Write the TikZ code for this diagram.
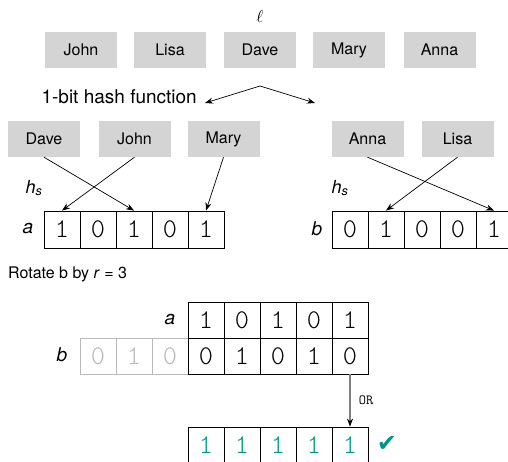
\documentclass[tikz,border=0pt]{standalone}
\usepackage{fontspec}
\setmainfont{TeX Gyre Heros}
\newfontfamily\digitfont{Latin Modern Mono Light}
\newfontfamily\symfont{DejaVu Sans}
\usetikzlibrary{arrows.meta}
\definecolor{boxgray}{RGB}{212,212,212}
\definecolor{teal}{RGB}{0,150,136}
\definecolor{ghost}{RGB}{185,185,185}
\tikzset{
  namebox/.style={fill=boxgray, minimum width=72pt, minimum height=36pt, inner sep=0pt, font=\fontsize{16}{19}\selectfont},
  cell/.style={draw, line width=0.8pt, minimum width=36pt, minimum height=37pt, inner sep=0pt, font=\digitfont\fontsize{27}{30}\selectfont},
  ghostcell/.style={cell, draw=ghost, text=ghost},
  okcell/.style={cell, text=teal},
  lbl/.style={inner sep=0pt, font=\fontsize{19}{22}\selectfont\itshape},
  txt/.style={inner sep=0pt, font=\fontsize{16}{19}\selectfont},
  arr/.style={-{Stealth[length=8pt,width=6pt]}, line width=0.7pt},
}
\begin{document}
\begin{tikzpicture}[x=1pt,y=-1pt]
\useasboundingbox (0,0) rectangle (508,462);
% top row
\node (ell) at (260,17) {\fontsize{16}{19}\selectfont$\ell$};
\node[namebox] (john) at (81,50) {John};
\node[namebox] (lisa) at (170,50) {Lisa};
\node[namebox] (dave) at (260,50) {Dave};
\node[namebox] (mary) at (349,50) {Mary};
\node[namebox] (anna) at (439.5,50) {Anna};
% hash function
\node[txt, anchor=east, font=\fontsize{19}{22}\selectfont] (hash) at (197,97) {1-bit hash function};
\coordinate (apex) at (260,86);
\coordinate (hl) at (205,103);
\coordinate (hr) at (315,103);
\draw[arr] (apex) -- (hl);
\draw[arr] (apex) -- (hr);
% second row names
\node[namebox] (dave2) at (44,139) {Dave};
\node[namebox] (john2) at (134.5,139) {John};
\node[namebox] (mary2) at (223.5,139) {Mary};
\node[namebox] (anna2) at (367.5,139) {Anna};
\node[namebox] (lisa2) at (457.5,139) {Lisa};
% array a
\node[lbl] (alab) at (28,229) {a};
\node[txt, font=\fontsize{18}{21}\selectfont] (hs1) at (34,188) {\textit{h}\textsubscript{\textit{s}}};
\foreach \v [count=\i] in {1,0,1,0,1}
  \node[cell] (a\i) at (44+36*\i-18,229.5) {\v};
% array b
\node[lbl] (blab) at (317,229) {b};
\node[txt, font=\fontsize{18}{21}\selectfont] (hs2) at (340,188) {\textit{h}\textsubscript{\textit{s}}};
\foreach \v [count=\i] in {0,1,0,0,1}
  \node[cell] (b\i) at (332+36*\i-18,229.5) {\v};
% hash arrows
\draw[arr] (dave2.south) -- (a3.north);
\draw[arr] (john2.south) -- (a1.north);
\draw[arr] (mary2.south) -- (a5.north);
\draw[arr] (anna2.south) -- (b5.north);
\draw[arr] (lisa2.south) -- (b2.north);
% rotate
\node[txt, anchor=west] (rot) at (8,274) {Rotate b by \textit{r} = 3};
\node[lbl] (alab2) at (170,320) {a};
\foreach \v [count=\i] in {1,0,1,0,1}
  \node[cell, minimum height=36pt] (ra\i) at (188+36*\i-18,320) {\v};
\node[lbl] (blab2) at (62,355) {b};
\foreach \v [count=\i] in {0,1,0}
  \node[ghostcell, minimum height=36pt] (g\i) at (80+36*\i-18,356) {\v};
\foreach \v [count=\i] in {0,1,0,1,0}
  \node[cell, minimum height=36pt] (rb\i) at (188+36*\i-18,356) {\v};
\foreach \i in {1,...,5}
  \node[okcell, minimum height=36pt] (res\i) at (188+36*\i-18,445) {1};
\draw[draw=gray, line width=1.2pt, -{Stealth[length=8pt,width=6pt,color=black,fill=black]}] (rb5.south) -- node[right=5pt, text=black, font=\ttfamily\fontsize{14}{16}\selectfont] {OR} (res5.north);
\node[text=teal, font=\symfont\fontsize{24}{26}\selectfont] (check) at (387,444) {✔};
\end{tikzpicture}
\end{document}
